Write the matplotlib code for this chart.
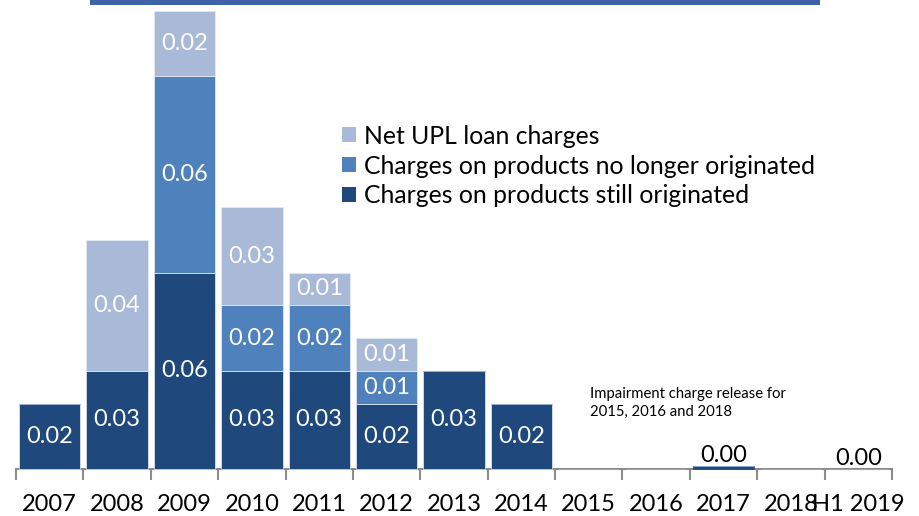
import matplotlib.pyplot as plt
import numpy as np
from matplotlib.patches import Patch, Rectangle

years = ['2007', '2008', '2009', '2010', '2011', '2012', '2013',
         '2014', '2015', '2016', '2017', '2018', 'H1 2019']

# impairment charges by segment (releases in 2015, 2016, 2018 not shown)
still_orig = [0.02, 0.03, 0.06, 0.03, 0.03, 0.02, 0.03, 0.02, 0, 0, 0.0008, 0, 0.0]
no_longer = [0, 0, 0.06, 0.02, 0.02, 0.01, 0, 0, 0, 0, 0, 0, 0]
net_upl = [0, 0.04, 0.02, 0.03, 0.01, 0.01, 0, 0, 0, 0, 0, 0, 0]

series_names = ['Charges on products still originated',
                'Charges on products no longer originated',
                'Net UPL loan charges']
colors = ['#1F497D', '#4F81BD', '#A9B9D8']

# categories where the total is shown above the bar
above_labels = ['2017', 'H1 2019']

plt.rcParams['font.family'] = ['Lato', 'DejaVu Sans']

fig = plt.figure(figsize=(9.19, 5.16), dpi=100)
ax = fig.add_axes([16 / 919, 47 / 516, 876 / 919, 458.3 / 516])

x = np.arange(len(years))
bottom = np.zeros(len(years))
for vals, col in zip([still_orig, no_longer, net_upl], colors):
    vals = np.array(vals)
    # thin light edge only on segments big enough to carry a label
    edges = ['#E8EDF5' if v >= 0.005 else col for v in vals]
    ax.bar(x, vals, width=0.91, bottom=bottom, color=col,
           edgecolor=edges, linewidth=0.5, clip_on=False, zorder=3)
    for xi, v, b in zip(x, vals, bottom):
        if v >= 0.005:
            ax.text(xi, b + v / 2, '%.2f' % v, ha='center', va='center',
                    color='white', fontsize=17, zorder=4)
    bottom = bottom + vals

for name in above_labels:
    i = years.index(name)
    ax.annotate('%.2f' % bottom[i], (x[i], bottom[i]), xytext=(0, 0),
                textcoords='offset points', ha='center', va='bottom',
                fontsize=17, color='black')

ax.text(8.02, 0.0201, 'Impairment charge release for\n2015, 2016 and 2018',
        ha='left', va='center', fontsize=10.7, linespacing=1.35)

ax.set_xlim(-0.5, len(years) - 0.5)
ax.set_ylim(0, 0.14)
ax.set_xticks(x)
ax.set_xticklabels(years, fontsize=17)
ax.set_xticks(np.arange(-0.5, len(years)), minor=True)
ax.tick_params(axis='x', which='major', length=0, pad=18)
ax.tick_params(axis='x', which='minor', length=8, width=1.5, color='#8C8C8C')
ax.set_yticks([])
for s in ['left', 'right', 'top']:
    ax.spines[s].set_visible(False)
ax.spines['bottom'].set_color('#8C8C8C')
ax.spines['bottom'].set_linewidth(1.5)
ax.spines['bottom'].set_zorder(2)

handles = [Patch(facecolor=c) for c in colors[::-1]]
ax.legend(handles, series_names[::-1], loc='center left',
          bbox_to_anchor=(342 / 919, (516 - 166) / 516),
          bbox_transform=fig.transFigure, frameon=False, fontsize=17.8,
          handlelength=0.57, handleheight=0.57, handletextpad=0.33,
          labelspacing=0.28, borderpad=0, borderaxespad=0)

# blue band along the top edge
fig.add_artist(Rectangle((89.5 / 919, 511 / 516), (820 - 89.5) / 919, 5 / 516,
                         transform=fig.transFigure, color='#3F62A6', lw=0))

fig.savefig('out.png', dpi=100)
